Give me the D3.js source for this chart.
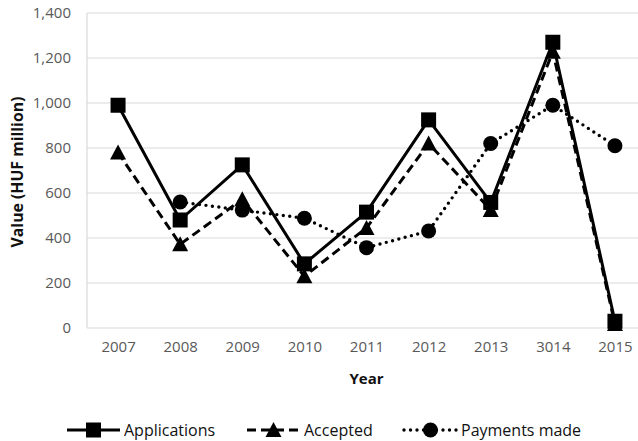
<!DOCTYPE html>
<html>
<head>
<meta charset="utf-8">
<script src="https://cdn.jsdelivr.net/npm/d3@7/dist/d3.min.js"></script>
<style>
  html, body { margin: 0; padding: 0; background: #fff; }
  svg { display: block; }
</style>
</head>
<body>
<svg id="chart" width="638" height="441"></svg>
<script>
// Programme figures per year, HUF million
const years = ["2007", "2008", "2009", "2010", "2011", "2012", "2013", "3014", "2015"];
const applications = [990, 480, 725, 285, 515, 925, 558, 1270, 30];
const accepted = [780, 372, 572, 230, 445, 820, 525, 1228, 18];
const paymentsMade = [null, 560, 524, 488, 357, 431, 820, 990, 810];
const yTicks = [0, 200, 400, 600, 800, 1000, 1200, 1400];
const seriesNames = ["Applications", "Accepted", "Payments made"];

const svg = d3.select("#chart");
const font = "'Open Sans', 'Noto Sans', sans-serif";

const plot = { left: 87, right: 646, top: 13, bottom: 328 };

const x = d3.scalePoint().domain(years).range([plot.left, plot.right]).padding(0.5);
const y = d3.scaleLinear().domain([0, 1400]).range([plot.bottom, plot.top]);

// horizontal gridlines
svg.append("g").selectAll("line").data(yTicks).join("line")
  .attr("x1", plot.left).attr("x2", plot.right)
  .attr("y1", d => y(d)).attr("y2", d => y(d))
  .attr("stroke", "#d9d9d9").attr("stroke-width", 1.2);

// left frame line
svg.append("line")
  .attr("x1", plot.left).attr("x2", plot.left)
  .attr("y1", plot.top).attr("y2", plot.bottom)
  .attr("stroke", "#d9d9d9").attr("stroke-width", 1.2);

// y axis labels
const yAxis = d3.axisLeft(y).tickValues(yTicks).tickSize(0).tickPadding(16)
  .tickFormat(d3.format(","));
const gy = svg.append("g").attr("transform", `translate(${plot.left},0)`).call(yAxis);
gy.select(".domain").remove();
gy.selectAll("text").attr("fill", "#595959").style("font-family", font).style("font-size", "15px");

// x axis labels
const xAxis = d3.axisBottom(x).tickSize(0).tickPadding(13);
const gx = svg.append("g").attr("transform", `translate(0,${plot.bottom})`).call(xAxis);
gx.select(".domain").remove();
gx.selectAll("text").attr("fill", "#595959").style("font-family", font).style("font-size", "15px");

// axis titles
svg.append("text")
  .attr("x", (plot.left + plot.right) / 2).attr("y", 378)
  .attr("text-anchor", "middle").attr("dominant-baseline", "central")
  .style("font-family", font).style("font-size", "15px").style("font-weight", "bold")
  .attr("fill", "#111").text("Year");

svg.append("text")
  .attr("transform", `translate(17,172) rotate(-90)`)
  .attr("text-anchor", "middle").attr("dominant-baseline", "central")
  .style("font-family", font).style("font-size", "15.8px").style("font-weight", "bold")
  .attr("fill", "#111").text("Value (HUF million)");

// series styles
const styles = [
  { values: applications, dash: null, cap: "butt", width: 3, marker: "square" },
  { values: accepted, dash: "9,5", cap: "butt", width: 3, marker: "triangle" },
  { values: paymentsMade, dash: "0,6.5", cap: "round", width: 3.4, marker: "circle" }
];

function drawMarker(g, type, cx, cy) {
  if (type === "square") {
    g.append("rect").attr("x", cx - 7.5).attr("y", cy - 7.5)
      .attr("width", 15).attr("height", 15).attr("fill", "#000");
  } else if (type === "triangle") {
    g.append("path")
      .attr("d", `M${cx},${cy - 8} L${cx + 8},${cy + 7} L${cx - 8},${cy + 7} Z`)
      .attr("fill", "#000");
  } else {
    g.append("circle").attr("cx", cx).attr("cy", cy).attr("r", 7.5).attr("fill", "#000");
  }
}

const line = d3.line()
  .defined(d => d.v !== null)
  .x(d => x(d.year))
  .y(d => y(d.v));

// draw payments first so applications sits on top
const order = [2, 1, 0];
order.forEach(i => {
  const s = styles[i];
  const pts = years.map((yr, j) => ({ year: yr, v: s.values[j] }));
  const g = svg.append("g");
  g.append("path").datum(pts)
    .attr("d", line)
    .attr("fill", "none").attr("stroke", "#000")
    .attr("stroke-width", s.width)
    .attr("stroke-linecap", s.cap)
    .attr("stroke-linejoin", "round")
    .attr("stroke-dasharray", s.dash);
  pts.filter(p => p.v !== null).forEach(p => drawMarker(g, s.marker, x(p.year), y(p.v)));
});

// legend
const legendY = 430;
const legendItems = [
  { x1: 67, x2: 120, text: 124 },
  { x1: 247, x2: 300, text: 304 },
  { x1: 404, x2: 457, text: 461 }
];
legendItems.forEach((it, i) => {
  const s = styles[i];
  const g = svg.append("g");
  g.append("line").attr("x1", it.x1).attr("x2", it.x2)
    .attr("y1", legendY).attr("y2", legendY)
    .attr("stroke", "#000").attr("stroke-width", s.width)
    .attr("stroke-linecap", s.cap)
    .attr("stroke-dasharray", s.dash);
  drawMarker(g, s.marker, (it.x1 + it.x2) / 2, legendY);
  g.append("text").attr("x", it.text).attr("y", legendY)
    .attr("dominant-baseline", "central")
    .style("font-family", font).style("font-size", "16px")
    .attr("fill", "#111").text(seriesNames[i]);
});
</script>
</body>
</html>
